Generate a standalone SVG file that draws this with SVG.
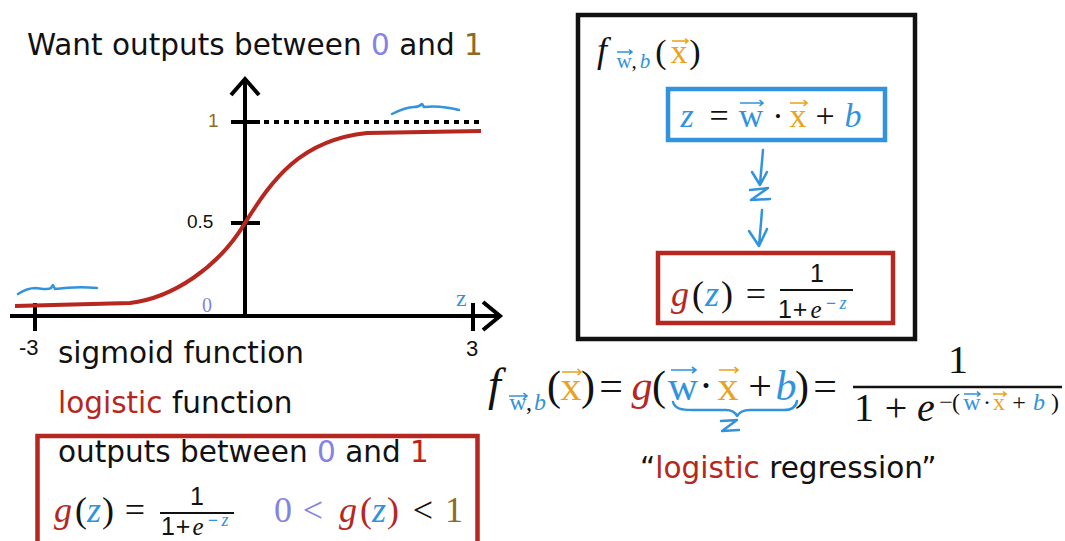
<svg xmlns="http://www.w3.org/2000/svg" width="1065" height="541" viewBox="0 0 1065 541">
<style>
.t{font-family:"DejaVu Sans",Verdana,sans-serif;font-size:29.5px;fill:#111}
.m{font-family:"Liberation Serif","DejaVu Serif",serif;fill:#111}
.i{font-style:italic}
.c{text-anchor:middle}
.s{font-family:"Liberation Sans",Arial,sans-serif}
.blue{fill:#3193dd}
.org{fill:#e9a31c}
.red{fill:#b5271f}
.lav{fill:#8484e2}
.brn{fill:#8e6a25}
.ax{stroke:#000;stroke-width:4;fill:none;stroke-linecap:butt}
.vb{stroke:#3193dd;stroke-width:1.6;fill:none}
.vo{stroke:#e9a31c;stroke-width:1.6;fill:none}
.hand{stroke:#3193dd;stroke-width:2.5;fill:none;stroke-linecap:round;stroke-linejoin:round}
</style>

<!-- Title -->
<text class="t" x="27" y="55">Want outputs between <tspan class="lav">0</tspan> and <tspan class="brn">1</tspan></text>

<!-- Graph -->
<g id="graph">
  <path class="ax" d="M245,316 V80"/>
  <path class="ax" d="M231,95 L245,79 L259,95"/>
  <path class="ax" d="M10,316 H500"/>
  <path class="ax" d="M483,302 L500,316 L483,330"/>
  <path class="ax" d="M35,303 V331 M473,303 V331 M231,122 H260 M231,223 H260"/>
  <path d="M264,122 H484" stroke="#000" stroke-width="4" stroke-dasharray="5 5" fill="none"/>
  <path d="M15,306 L130,303 C172,298 218,268 245,223 C272,180 300,140 367,133 L481,131" stroke="#b5271f" stroke-width="4" fill="none"/>
  <path class="hand" d="M392,114 C400,110 408,107 414,107 C418,107 420,106 422,104 L424,107 C432,106 444,106 459,110" stroke-width="2"/>
  <path class="hand" d="M18,294 C24,290 30,288 36,288 C44,289 48,290 51,288 L53,285 L55,289 C70,287 85,287 97,288" stroke-width="2"/>
  <text class="s brn" x="208" y="127" font-size="19">1</text>
  <text class="s" x="187" y="228" font-size="19" fill="#111">0.5</text>
  <text class="m lav" x="202" y="312" font-size="20">0</text>
  <text class="m blue" x="456" y="306" font-size="24">z</text>
  <text class="s" x="19" y="355" font-size="22" fill="#111">-3</text>
  <text class="s" x="466" y="356" font-size="22" fill="#111">3</text>
</g>

<text class="t" x="58" y="363">sigmoid function</text>
<text class="t" x="58" y="413"><tspan class="red">logistic</tspan> function</text>

<!-- Bottom-left box -->
<g id="sigmoid-box">
  <rect x="37.5" y="436" width="440" height="120" fill="none" stroke="#b5271f" stroke-width="4.5"/>
  <text class="t" x="58" y="462">outputs between <tspan class="lav">0</tspan> and <tspan style="fill:#c0221a">1</tspan></text>
  <g class="m" font-size="36">
    <text class="i red c" x="63" y="522">g</text>
    <text class="c" x="81" y="522">(</text>
    <text class="i blue c" x="94" y="522">z</text>
    <text class="c" x="108" y="522">)</text>
    <text class="c" x="135" y="522">=</text>
  </g>
  <path d="M160,513 H234" stroke="#111" stroke-width="2"/>
  <g class="s c" font-size="25" fill="#111">
    <text x="197" y="505">1</text>
    <text x="168" y="535">1</text>
    <text x="183" y="535">+</text>
  </g>
  <text class="m i c" x="198" y="535" font-size="25">e</text>
  <text class="s c blue" x="213" y="526" font-size="17">−</text>
  <text class="m i c blue" x="225" y="526" font-size="18">z</text>
  <g class="m" font-size="36">
    <text class="lav c" x="283" y="522">0</text>
    <text class="lav c" x="313" y="522">&lt;</text>
    <text class="i red c" x="348" y="522">g</text>
    <text class="red c" x="366" y="522">(</text>
    <text class="i blue c" x="379" y="522">z</text>
    <text class="red c" x="393" y="522">)</text>
    <text class="c" x="423" y="522">&lt;</text>
    <text class="brn c" x="454" y="522">1</text>
  </g>
</g>

<!-- Right big box -->
<g id="model-box">
  <rect x="578" y="15" width="337" height="324" fill="none" stroke="#111" stroke-width="4.5"/>
  <g class="m">
    <text class="i" x="597" y="62" font-size="36">f</text>
    <text class="blue c" x="624" y="68" font-size="21">w</text>
    <path class="vb" d="M617,52 H632 M629,49.5 L632,52 L629,54.5"/>
    <text class="c" x="634" y="68" font-size="21" fill="#111">,</text>
    <text class="i blue c" x="645" y="68" font-size="21">b</text>
    <text class="c" x="661" y="63" font-size="34">(</text>
    <text class="org c" x="679" y="63" font-size="34">x</text>
    <path class="vo" d="M672,41 H688 M685,38.5 L688,41 L685,43.5"/>
    <text class="c" x="695" y="63" font-size="34">)</text>
  </g>
</g>

<g id="linear-box">
  <rect x="668" y="89" width="217" height="51" fill="none" stroke="#3193dd" stroke-width="4.5"/>
  <g class="m" font-size="34">
    <text class="i blue c" x="687" y="127">z</text>
    <text class="c" x="719" y="127">=</text>
    <text class="blue c" x="751" y="127">w</text>
    <path class="vb" d="M740,103 H763 M759.5,100 L763,103 L759.5,106"/>
    <text class="c" x="778" y="127">·</text>
    <text class="org c" x="798" y="127">x</text>
    <path class="vo" d="M790,103 H807 M803.5,100 L807,103 L803.5,106"/>
    <text class="c" x="825" y="127">+</text>
    <text class="i blue c" x="853" y="127">b</text>
  </g>
</g>

<g id="sigmoid-node">
  <rect x="658" y="253" width="235" height="70" fill="none" stroke="#b5271f" stroke-width="4.5"/>
  <g class="m" font-size="36">
    <text class="i red c" x="680" y="306">g</text>
    <text class="c" x="698" y="306">(</text>
    <text class="i blue c" x="712" y="306">z</text>
    <text class="c" x="727" y="306">)</text>
    <text class="c" x="756" y="306">=</text>
  </g>
  <path d="M780,290 H853" stroke="#111" stroke-width="2"/>
  <g class="s c" font-size="25" fill="#111">
    <text x="817" y="282">1</text>
    <text x="785" y="318">1</text>
    <text x="800" y="318">+</text>
  </g>
  <text class="m i c" x="816" y="318" font-size="25">e</text>
  <text class="s c blue" x="831" y="309" font-size="17">−</text>
  <text class="m i c blue" x="843" y="309" font-size="18">z</text>
</g>

<!-- Connectors -->
<g id="connectors">
  <path class="hand" d="M763,150 C762,162 761,172 760,184 M752,172 L760,185 L767,172"/>
  <path class="hand" d="M750,190 L768,188 L751,200 L770,199"/>
  <path class="hand" d="M762,210 C761,224 760,234 759,246 M749,231 L759,246 L767,229"/>
</g>

<!-- Bottom-right formula -->
<g id="formula" class="m">
  <text class="i" x="488" y="400" font-size="46">f</text>
  <text class="blue c" x="518" y="410" font-size="24">w</text>
  <path class="vb" d="M509,396 H527 M523.5,393 L527,396 L523.5,399"/>
  <text class="c" x="529" y="410" font-size="24">,</text>
  <text class="i blue c" x="540" y="410" font-size="24">b</text>
  <text class="c" x="554" y="400" font-size="42">(</text>
  <text class="org c" x="571" y="400" font-size="42">x</text>
  <path class="vo" d="M562,372 H581 M577.5,369 L581,372 L577.5,375"/>
  <text class="c" x="588" y="400" font-size="42">)</text>
  <text class="c" x="611" y="400" font-size="42">=</text>
  <text class="i red c" x="642" y="400" font-size="42">g</text>
  <text class="c" x="659" y="400" font-size="42">(</text>
  <text class="blue c" x="683" y="400" font-size="42">w</text>
  <path class="vb" d="M671,370 H696 M692,367 L696,370 L692,373"/>
  <text class="c" x="706" y="400" font-size="42">·</text>
  <text class="org c" x="728" y="400" font-size="42">x</text>
  <path class="vo" d="M719,370 H738 M734.5,367 L738,370 L734.5,373"/>
  <text class="c" x="760" y="400" font-size="42">+</text>
  <text class="i blue c" x="786" y="400" font-size="42">b</text>
  <text class="c" x="802" y="400" font-size="42">)</text>
  <text class="c" x="825" y="400" font-size="42">=</text>
  <path d="M853,387 H1062" stroke="#111" stroke-width="2.5"/>
  <text class="c" x="958" y="373" font-size="40">1</text>
  <text class="c" x="864" y="421" font-size="40">1</text>
  <text class="c" x="896" y="421" font-size="40">+</text>
  <text class="i c" x="926" y="421" font-size="40">e</text>
  <text class="c" x="946" y="410" font-size="24">−</text>
  <text class="c" x="956" y="410" font-size="24">(</text>
  <text class="blue c" x="972" y="410" font-size="24">w</text>
  <path class="vb" d="M964,394 H980 M977,391.5 L980,394 L977,396.5"/>
  <text class="c" x="987" y="410" font-size="24">·</text>
  <text class="org c" x="999" y="410" font-size="24">x</text>
  <path class="vo" d="M993,394 H1006 M1003,391.5 L1006,394 L1003,396.5"/>
  <text class="c" x="1019" y="410" font-size="24">+</text>
  <text class="i blue c" x="1039" y="410" font-size="24">b</text>
  <text class="c" x="1055" y="410" font-size="24">)</text>
  <path class="hand" d="M673,402 C675,409 682,410 692,410 L726,410 C732,410 735,412 737,416 C740,411 744,410 750,410 L784,410 C792,410 796,407 797,401" stroke-width="2"/>
  <path class="hand" d="M721,421 L737,420 L722,431 L739,430" stroke-width="2.2"/>
</g>

<text class="t" x="640" y="478">“<tspan class="red">logistic</tspan> regression”</text>
</svg>
